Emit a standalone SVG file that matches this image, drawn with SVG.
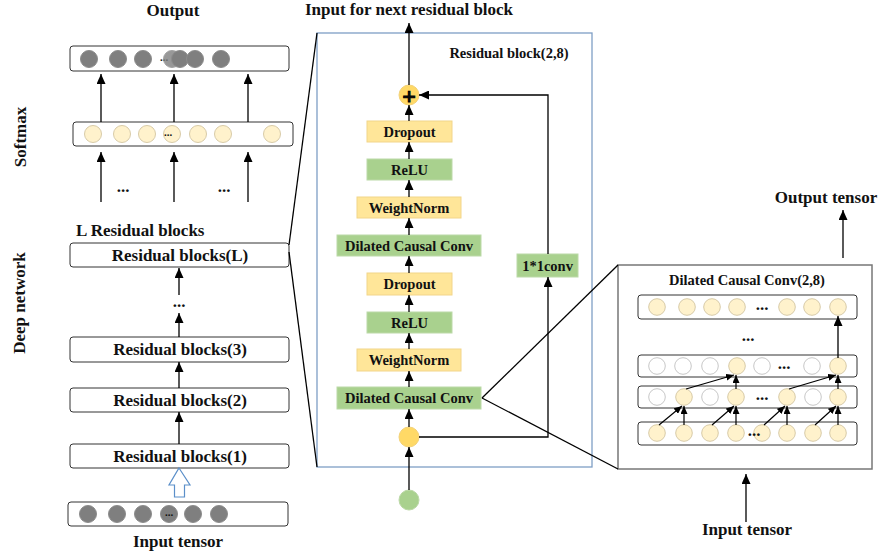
<svg xmlns="http://www.w3.org/2000/svg" width="878" height="557" viewBox="0 0 878 557">
<defs>
<marker id="ah" markerUnits="userSpaceOnUse" markerWidth="10" markerHeight="9" refX="10" refY="4.5" orient="auto"><path d="M0,0 L10,4.5 L0,9 z" fill="#000"/></marker>
<marker id="as" markerUnits="userSpaceOnUse" markerWidth="8" markerHeight="7" refX="8" refY="3.5" orient="auto"><path d="M0,0 L8,3.5 L0,7 z" fill="#000"/></marker>
<style>
text{font-family:"Liberation Serif","Times New Roman",serif;font-weight:bold;fill:#111;}
.t15{font-size:17px;}
.t13{font-size:14.5px;}
.t12{font-size:14.5px;}
.dots{font-size:11px;}
.box{fill:#fff;stroke:#333;stroke-width:1;}
.yb{fill:#ffe699;stroke:#f2d58a;stroke-width:1;}
.gb{fill:#a9d18e;stroke:#bcd9a8;stroke-width:1;}
.pc{fill:#fff2cc;stroke:#d8cba8;stroke-width:1;}
.wc{fill:#fff;stroke:#c8c8c8;stroke-width:1;}
.gc{fill:#7f7f7f;stroke:#8c8c8c;stroke-width:1;}
.ln{stroke:#000;stroke-width:1.3;fill:none;}
.ar{stroke:#000;stroke-width:1.3;fill:none;marker-end:url(#ah);}
.as{stroke:#000;stroke-width:1.2;fill:none;marker-end:url(#as);}
</style>
</defs>

<!-- labels -->
<g id="labels">
<text class="t15" x="173" y="10" text-anchor="middle" dominant-baseline="central">Output</text>
<text class="t15" x="20" y="137" text-anchor="middle" dominant-baseline="central" transform="rotate(-90 20 137)">Softmax</text>
<text class="t15" x="19" y="303" text-anchor="middle" dominant-baseline="central" transform="rotate(-90 19 303)">Deep network</text>
<text class="t15" x="76" y="230" dominant-baseline="central">L Residual blocks</text>
<text class="t15" x="178" y="541" text-anchor="middle" dominant-baseline="central">Input tensor</text>
<text class="t15" x="409" y="9" text-anchor="middle" dominant-baseline="central">Input for next residual block</text>
<text class="t15" x="826" y="197" text-anchor="middle" dominant-baseline="central">Output tensor</text>
<text class="t15" x="747" y="529" text-anchor="middle" dominant-baseline="central">Input tensor</text>
<text class="t15" x="123" y="186" text-anchor="middle" dominant-baseline="central">...</text>
<text class="t15" x="224" y="186" text-anchor="middle" dominant-baseline="central">...</text>
<text class="t15" x="179" y="301" text-anchor="middle" dominant-baseline="central">...</text>
</g>

<!-- left column -->
<g id="output-layer">
<rect class="box" x="70" y="46" width="219" height="25" rx="3"/>
<circle class="gc" cx="89" cy="59" r="8.5"/>
<circle class="gc" cx="118" cy="59" r="8.5"/>
<circle class="gc" cx="143" cy="59" r="8.5"/>
<text class="dots" x="164" y="57" text-anchor="middle" dominant-baseline="central">...</text>
<circle class="gc" cx="172" cy="59" r="8.5" opacity="0.8"/>
<circle class="gc" cx="180" cy="59" r="8.5"/>
<circle class="gc" cx="195" cy="59" r="8.5"/>
<circle class="gc" cx="221" cy="59" r="8.5"/>
</g>
<g id="softmax-layer">
<rect class="box" x="73" y="122" width="220" height="24" rx="3"/>
<circle class="pc" cx="93" cy="134" r="8.5"/>
<circle class="pc" cx="122" cy="134" r="8.5"/>
<circle class="pc" cx="147" cy="134" r="8.5"/>
<circle class="pc" cx="172" cy="134" r="8.5"/>
<text class="dots" x="168" y="132" text-anchor="middle" dominant-baseline="central">...</text>
<circle class="pc" cx="198" cy="134" r="8.5"/>
<circle class="pc" cx="223" cy="134" r="8.5"/>
<circle class="pc" cx="272" cy="134" r="8.5"/>
</g>
<g id="res-L"><rect class="box" x="70" y="243" width="219" height="24" rx="3"/><text class="t15" x="180" y="255" text-anchor="middle" dominant-baseline="central">Residual blocks(L)</text></g>
<g id="res-3"><rect class="box" x="70" y="337" width="219" height="25" rx="3"/><text class="t15" x="180" y="349.5" text-anchor="middle" dominant-baseline="central">Residual blocks(3)</text></g>
<g id="res-2"><rect class="box" x="70" y="388" width="219" height="24" rx="3"/><text class="t15" x="180" y="400" text-anchor="middle" dominant-baseline="central">Residual blocks(2)</text></g>
<g id="res-1"><rect class="box" x="70" y="444" width="219" height="24" rx="3"/><text class="t15" x="180" y="456" text-anchor="middle" dominant-baseline="central">Residual blocks(1)</text></g>
<g id="input-layer">
<rect class="box" x="68" y="502" width="220" height="24" rx="3"/>
<circle class="gc" cx="88" cy="514" r="8.5"/>
<circle class="gc" cx="117" cy="514" r="8.5"/>
<circle class="gc" cx="143" cy="514" r="8.5"/>
<circle class="gc" cx="169" cy="514" r="8.5" stroke="#555"/>
<text class="dots" x="169" y="512" text-anchor="middle" dominant-baseline="central">...</text>
<circle class="gc" cx="193" cy="514" r="8.5"/>
<circle class="gc" cx="219" cy="514" r="8.5"/>
</g>

<!-- residual block detail -->
<g id="residual-frame"><rect x="317" y="33" width="275" height="434" fill="none" stroke="#7e9ec5" stroke-width="1.3"/>
<text class="t12" x="509" y="53" text-anchor="middle" dominant-baseline="central">Residual block(2,8)</text></g>
<g id="plus"><circle cx="409" cy="95" r="10" fill="#ffd966" stroke="#f3d27a"/><text x="409" y="96" font-size="24" text-anchor="middle" dominant-baseline="central" fill="#000" stroke="#000" stroke-width="1">+</text></g>
<g id="dropout1"><rect class="yb" x="367" y="121" width="85" height="21"/><text class="t13" x="409.5" y="131.5" text-anchor="middle" dominant-baseline="central">Dropout</text></g>
<g id="relu1"><rect class="gb" x="367" y="159" width="85" height="21"/><text class="t13" x="409.5" y="169.5" text-anchor="middle" dominant-baseline="central">ReLU</text></g>
<g id="wn1"><rect class="yb" x="357" y="197" width="104" height="21"/><text class="t13" x="409" y="207.5" text-anchor="middle" dominant-baseline="central">WeightNorm</text></g>
<g id="dcc1"><rect class="gb" x="337" y="235" width="144" height="21"/><text class="t13" x="409" y="245.5" text-anchor="middle" dominant-baseline="central">Dilated Causal Conv</text></g>
<g id="dropout2"><rect class="yb" x="367" y="273" width="85" height="22"/><text class="t13" x="409.5" y="284" text-anchor="middle" dominant-baseline="central">Dropout</text></g>
<g id="relu2"><rect class="gb" x="367" y="312" width="85" height="21"/><text class="t13" x="409.5" y="322.5" text-anchor="middle" dominant-baseline="central">ReLU</text></g>
<g id="wn2"><rect class="yb" x="357" y="349" width="104" height="22"/><text class="t13" x="409" y="360" text-anchor="middle" dominant-baseline="central">WeightNorm</text></g>
<g id="dcc2"><rect class="gb" x="337" y="387" width="144" height="22"/><text class="t13" x="409" y="398" text-anchor="middle" dominant-baseline="central">Dilated Causal Conv</text></g>
<g id="conv1x1"><rect class="gb" x="517" y="254" width="61" height="23"/><text class="t13" x="547.5" y="265.5" text-anchor="middle" dominant-baseline="central">1*1conv</text></g>
<g id="split-node"><circle cx="409" cy="437" r="10" fill="#ffd966" stroke="#f3d27a"/></g>
<g id="input-node"><circle cx="409" cy="500" r="10" fill="#a9d18e" stroke="#bcd9a8"/></g>

<!-- dilated conv detail -->
<g id="dcc-panel">
<rect x="618" y="265" width="254" height="204" fill="#fff" stroke="#777" stroke-width="1.5"/>
<text class="t12" x="747" y="280" text-anchor="middle" dominant-baseline="central">Dilated Causal Conv(2,8)</text>
<rect class="box" x="638" y="295" width="219" height="24" rx="3"/>
<rect class="box" x="638" y="355" width="219" height="22" rx="3"/>
<rect class="box" x="638" y="386" width="219" height="22" rx="3"/>
<rect class="box" x="638" y="422" width="219" height="23" rx="3"/>
<g>
<circle class="pc" cx="657" cy="307" r="8.3"/><circle class="pc" cx="687" cy="307" r="8.3"/><circle class="pc" cx="712" cy="307" r="8.3"/><circle class="pc" cx="737" cy="307" r="8.3"/>
<text class="t15" x="762" y="304" text-anchor="middle" dominant-baseline="central">...</text>
<circle class="pc" cx="787" cy="307" r="8.3"/><circle class="pc" cx="812" cy="307" r="8.3"/><circle class="pc" cx="838" cy="307" r="8.3"/>
</g>
<text class="t15" x="748" y="335" text-anchor="middle" dominant-baseline="central">...</text>
<g>
<circle class="wc" cx="657" cy="366" r="8.3"/><circle class="wc" cx="683" cy="366" r="8.3"/><circle class="wc" cx="710" cy="366" r="8.3"/><circle class="pc" cx="737" cy="366" r="8.3"/><circle class="wc" cx="762" cy="366" r="8.3"/>
<text class="t15" x="784" y="363" text-anchor="middle" dominant-baseline="central">...</text>
<circle class="wc" cx="812" cy="366" r="8.3"/><circle class="pc" cx="838" cy="366" r="8.3"/>
</g>
<g>
<circle class="wc" cx="657" cy="397" r="8.3"/><circle class="pc" cx="684" cy="397" r="8.3"/><circle class="wc" cx="710" cy="397" r="8.3"/><circle class="pc" cx="736" cy="397" r="8.3"/>
<text class="t15" x="762" y="394" text-anchor="middle" dominant-baseline="central">...</text>
<circle class="pc" cx="787" cy="397" r="8.3"/><circle class="wc" cx="813" cy="397" r="8.3"/><circle class="pc" cx="838" cy="397" r="8.3"/>
</g>
<g>
<circle class="pc" cx="657" cy="433" r="8.3"/><circle class="pc" cx="684" cy="433" r="8.3"/><circle class="pc" cx="710" cy="433" r="8.3"/><circle class="pc" cx="736" cy="433" r="8.3"/><circle class="pc" cx="762" cy="433" r="8.3"/>
<circle class="pc" cx="787" cy="433" r="8.3"/><circle class="pc" cx="813" cy="433" r="8.3"/><circle class="pc" cx="838" cy="433" r="8.3"/>
<text class="t15" x="754" y="430" text-anchor="middle" dominant-baseline="central">...</text>
</g>
</g>

<!-- connectors -->
<g id="connectors">
<line class="ar" x1="101" y1="122" x2="101" y2="74"/>
<line class="ar" x1="174" y1="122" x2="174" y2="74"/>
<line class="ar" x1="248" y1="122" x2="248" y2="74"/>
<line class="ar" x1="101" y1="202" x2="101" y2="152"/>
<line class="ar" x1="174" y1="202" x2="174" y2="152"/>
<line class="ar" x1="248" y1="202" x2="248" y2="152"/>
<line class="ar" x1="179" y1="295" x2="179" y2="268"/>
<line class="ar" x1="179" y1="337" x2="179" y2="313"/>
<line class="ar" x1="179" y1="388" x2="179" y2="362"/>
<line class="ar" x1="179" y1="444" x2="179" y2="412"/>
<polygon points="179,468 190,485 184.5,485 184.5,497 174.5,497 174.5,485 169,485" fill="#fff" stroke="#5b8fc9" stroke-width="1.2"/>
<line class="ln" x1="289" y1="245" x2="317" y2="33"/>
<line class="ln" x1="289" y1="252" x2="317" y2="467"/>
<line class="ar" x1="409" y1="85" x2="409" y2="23"/>
<line class="ar" x1="409" y1="121" x2="409" y2="105"/>
<line class="ar" x1="409" y1="159" x2="409" y2="142"/>
<line class="ar" x1="409" y1="197" x2="409" y2="180"/>
<line class="ar" x1="409" y1="235" x2="409" y2="218"/>
<line class="ar" x1="409" y1="273" x2="409" y2="256"/>
<line class="ar" x1="409" y1="312" x2="409" y2="295"/>
<line class="ar" x1="409" y1="349" x2="409" y2="333"/>
<line class="ar" x1="409" y1="387" x2="409" y2="371"/>
<line class="ar" x1="409" y1="427" x2="409" y2="409"/>
<line class="ar" x1="409" y1="490" x2="409" y2="447"/>
<polyline class="ar" points="419,437 548,437 548,277"/>
<polyline class="ar" points="548,254 548,95 419,95"/>
<line class="ln" x1="482" y1="398" x2="618" y2="265"/>
<line class="ln" x1="482" y1="398" x2="618" y2="469"/>
<line class="ar" x1="843" y1="258" x2="843" y2="210"/>
<line class="ar" x1="746" y1="522" x2="746" y2="474"/>
<line class="as" x1="659" y1="425" x2="682" y2="406"/>
<line class="as" x1="684" y1="425" x2="684" y2="406"/>
<line class="as" x1="712" y1="425" x2="734" y2="406"/>
<line class="as" x1="736" y1="425" x2="736" y2="406"/>
<line class="as" x1="764" y1="425" x2="785" y2="406"/>
<line class="as" x1="787" y1="425" x2="787" y2="406"/>
<line class="as" x1="815" y1="425" x2="836" y2="406"/>
<line class="as" x1="838" y1="425" x2="838" y2="406"/>
<line class="as" x1="686" y1="389" x2="734" y2="375"/>
<line class="as" x1="736" y1="389" x2="736" y2="375"/>
<line class="as" x1="789" y1="389" x2="836" y2="375"/>
<line class="as" x1="838" y1="389" x2="838" y2="375"/>
<line class="ar" x1="838" y1="358" x2="838" y2="316"/>
</g>
</svg>
